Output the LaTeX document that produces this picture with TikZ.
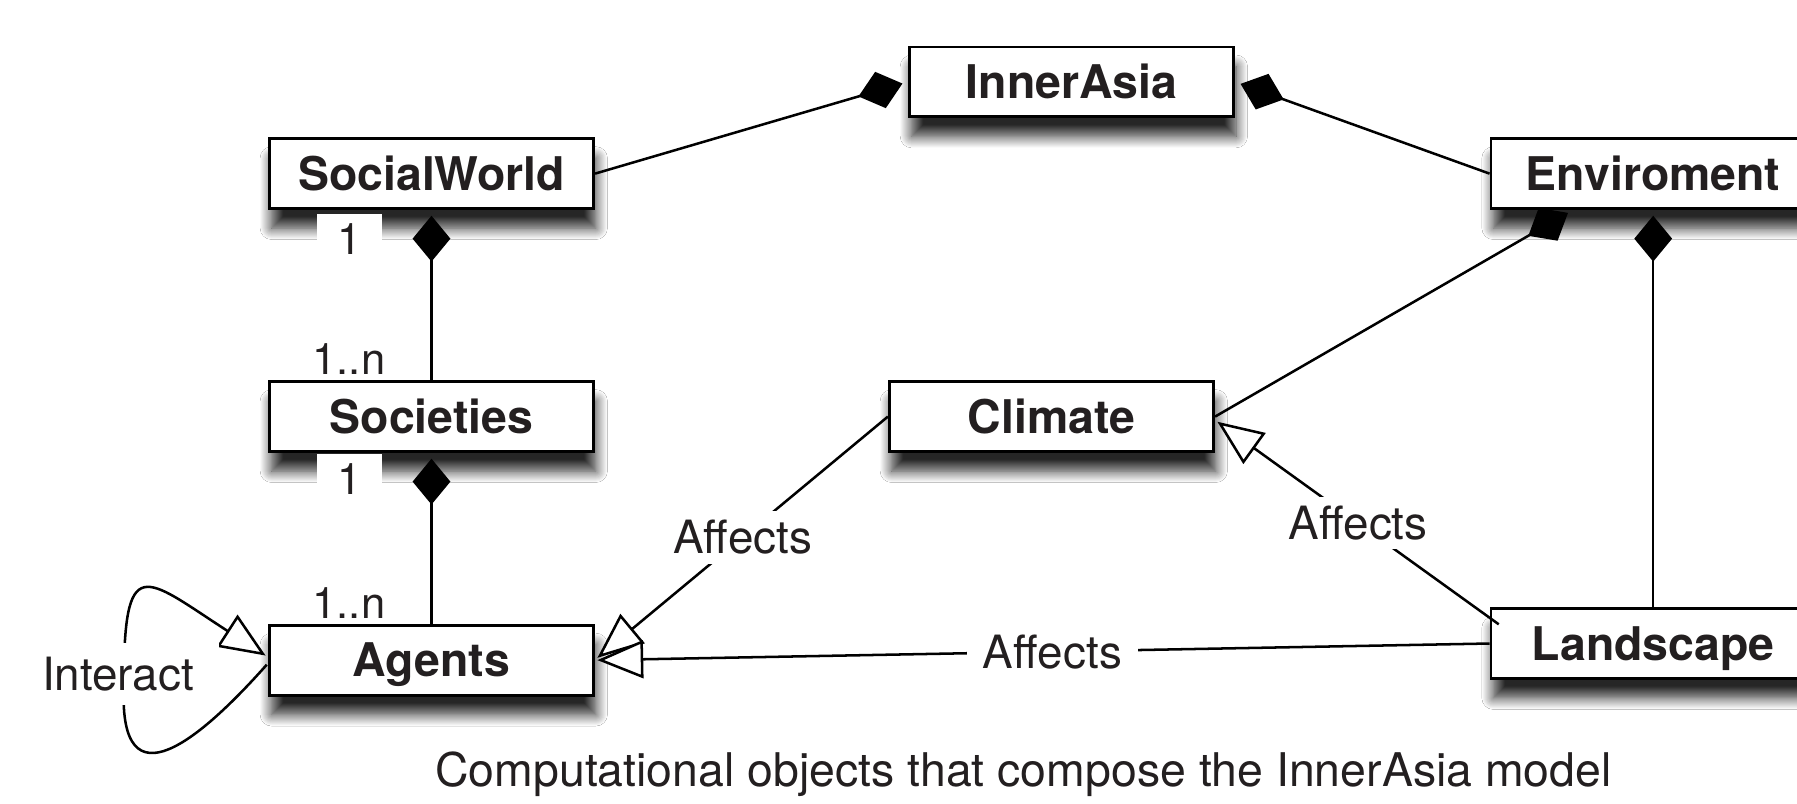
\documentclass[tikz,border=0pt]{standalone}
\usepackage{fontspec}
\setmainfont{TeX Gyre Heros}
\usetikzlibrary{arrows.meta,shadows.blur,calc}
\definecolor{ink}{RGB}{35,31,32}
\begin{document}
\begin{tikzpicture}[x=1pt,y=-1pt,
  cls/.style={draw=black, line width=2.5pt, fill=white, minimum width=283pt,
    minimum height=61pt, inner sep=0pt, text height=29pt, text depth=0pt,
    font=\fontsize{40.5}{48}\selectfont\bfseries, text=ink,
    blur shadow={shadow xshift=2pt, shadow yshift=-17pt, shadow blur radius=10pt, shadow opacity=85, shadow blur steps=12}},
  conn/.style={line width=2.2pt, draw=black},
  comp/.style={conn, -{Diamond[length=40pt,width=33pt]}, shorten >=5pt},
  gen/.style={conn, -{Triangle[open,length=40pt,width=33pt,fill=white]}},
  lbl/.style={fill=white, text=ink, font=\fontsize{40}{48}\selectfont, inner xsep=14pt, inner ysep=8pt},
  mult/.style={fill=white, text=ink, font=\fontsize{38}{46}\selectfont, inner sep=0pt,
    text height=27pt, text depth=0pt}]
\useasboundingbox (0,0) rectangle (1568,701);
\fill[white] (0,0) rectangle (1568,701);

% classes
\node[cls] (InnerAsia) at (935,71.5) {InnerAsia};
\node[cls] (SocialWorld) at (376.5,151.5) {SocialWorld};
\node[cls] (Enviroment) at (1442.5,151.5) {Enviroment};
\node[cls] (Societies) at (376.5,363.5) {Societies};
\node[cls] (Climate) at (917.5,363.5) {Climate};
\node[cls] (Agents) at (376.5,576) {Agents};
\node[cls] (Landscape) at (1442.5,561.5) {Landscape};

% compositions
\draw[comp] (SocialWorld.east) -- (InnerAsia.west);
\draw[comp] (Enviroment.west) -- (InnerAsia.east);
\draw[comp] (Societies.north) -- (SocialWorld.south);
\draw[comp] (Agents.north) -- (Societies.south);
\coordinate (envsw) at ($(Enviroment.south)+(-70,0)$);
\draw[comp] (Climate.east) -- (envsw);
\draw[comp] (Landscape.north) -- (Enviroment.south);

% multiplicities
\node[mult, minimum width=56pt, minimum height=44pt] (m1) at (305,209) {1};
\node[mult, minimum width=107pt, minimum height=36pt] (m2) at (304.5,313.5) {1..n};
\node[mult, minimum width=56pt, minimum height=44pt] (m3) at (305,418) {1};
\node[mult, minimum width=107pt, minimum height=36pt] (m4) at (304.5,526) {1..n};

% affects
\coordinate (lsstart) at ($(Landscape.north west)+(8,15)$);
\coordinate (clend) at ($(Climate.east)+(2,4.5)$);
\coordinate (agA) at ($(Agents.east)+(2,-2)$);
\coordinate (agB) at ($(Agents.east)+(2,0)$);
\draw[gen] (Climate.west) -- node[lbl] (a1) {Affects} (agA);
\draw[gen] (Landscape.west) -- node[lbl, pos=0.49] (a2) {Affects} (agB);
\draw[gen] (lsstart) -- node[lbl] (a3) {Affects} (clend);

% self loop
\coordinate (lpS) at ($(Agents.west)+(-1,4)$);
\coordinate (lpE) at ($(Agents.west)+(-2,-4)$);
\draw[gen] (lpS) .. controls (175,645) and (104,705) .. (108,600)
  .. controls (108,480) and (125,503) .. (lpE);
\node[lbl, inner xsep=22pt, inner ysep=12pt] (interact) at (103,588) {Interact};

% caption
\node[text=ink, font=\fontsize{40.5}{48}\selectfont, anchor=base] (caption) at (893,686)
  {Computational objects that compose the InnerAsia model};
\end{tikzpicture}
\end{document}
